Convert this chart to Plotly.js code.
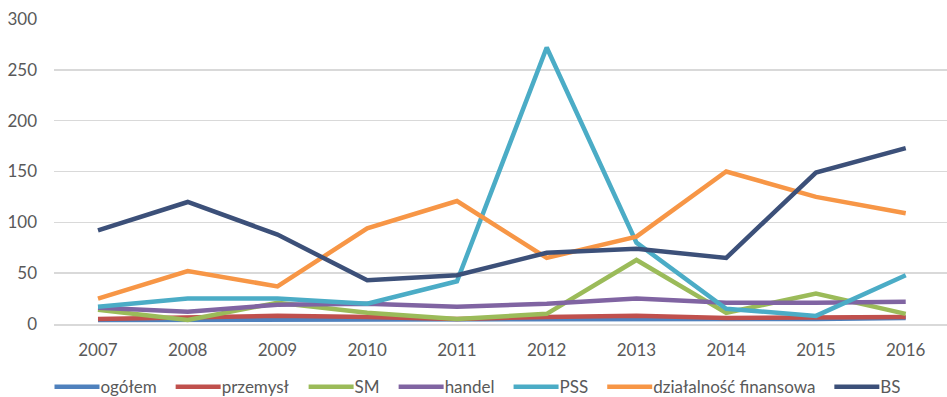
<!DOCTYPE html>
<html>
<head>
<meta charset="utf-8">
<script src="https://cdn.plot.ly/plotly-3.0.1.min.js"></script>
<style>
  html, body { margin: 0; padding: 0; background: #fff; }
  #chart { width: 947px; height: 397px; }
</style>
</head>
<body>
<div id="chart"></div>
<script>
// Years on the category axis
const years = ['2007', '2008', '2009', '2010', '2011', '2012', '2013', '2014', '2015', '2016'];

// Series values per year
const ogolem      = [4, 4, 5, 5, 4, 5, 5, 4, 5, 6];
const przemysl    = [5, 6, 8, 7, 5, 7, 8, 6, 6, 7];
const sm          = [14, 4, 21, 11, 5, 10, 63, 11, 30, 10];
const handel      = [16, 12, 19, 20, 17, 20, 25, 21, 21, 22];
const pss         = [17, 25, 25, 20, 42, 272, 80, 15, 8, 48];
const dzialalnosc = [25, 52, 37, 94, 121, 65, 86, 150, 125, 109];
const bs          = [92, 120, 88, 43, 48, 70, 74, 65, 149, 173];

const seriesNames = ['ogółem', 'przemysł', 'SM', 'handel', 'PSS', 'działalność finansowa', 'BS'];
const seriesData  = [ogolem, przemysl, sm, handel, pss, dzialalnosc, bs];
const seriesColors = ['#4F81BD', '#C0504D', '#9BBB59', '#8064A2', '#4BACC6', '#F79646', '#3C5079'];

const traces = seriesNames.map((name, i) => ({
  type: 'scatter',
  mode: 'lines',
  name: name,
  x: years,
  y: seriesData[i],
  line: { color: seriesColors[i], width: 4.5 },
  hoverinfo: 'x+y+name'
}));

const textFont = { family: 'Lato, "Open Sans", sans-serif', size: 17, color: '#595959' };

const layout = {
  width: 947,
  height: 397,
  margin: { l: 54, r: 0, t: 19, b: 73 },
  paper_bgcolor: '#ffffff',
  plot_bgcolor: '#ffffff',
  font: textFont,
  showlegend: true,
  legend: {
    orientation: 'h',
    xref: 'container',
    yref: 'container',
    x: 0.5,
    xanchor: 'center',
    y: 0.025,
    yanchor: 'middle',
    font: { family: textFont.family, size: 17, color: '#595959' },
    itemwidth: 50,
    traceorder: 'normal'
  },
  xaxis: {
    type: 'category',
    range: [-0.49, 9.46],
    showgrid: false,
    showline: true,
    linecolor: '#D9D9D9',
    linewidth: 1.5,
    zeroline: false,
    ticks: '',
    ticklabelstandoff: 10,
    tickfont: textFont,
    fixedrange: true
  },
  yaxis: {
    range: [0, 300],
    tickvals: [0, 50, 100, 150, 200, 250, 300],
    showgrid: true,
    gridcolor: '#D9D9D9',
    gridwidth: 1.5,
    zeroline: false,
    showline: false,
    ticks: '',
    ticklabelstandoff: 16,
    tickfont: textFont,
    fixedrange: true
  }
};

Plotly.newPlot('chart', traces, layout, { displayModeBar: false, staticPlot: true }).then(() => {
  // Stretch each legend swatch so it runs right up to its label
  document.querySelectorAll('.legend .traces').forEach(item => {
    const label = item.querySelector('text.legendtext');
    const path = item.querySelector('.legendlines path');
    if (!label || !path) return;
    const textX = parseFloat(label.getAttribute('x')) || 40;
    const swatch = 45;
    path.setAttribute('d', 'M' + (textX - swatch - 1) + ',0h' + swatch);
  });
});
</script>
</body>
</html>
